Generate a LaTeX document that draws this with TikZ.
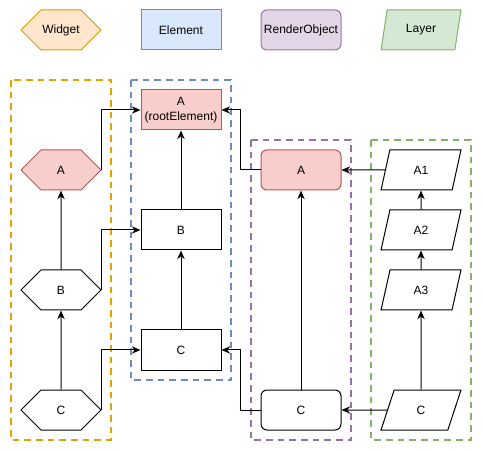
\documentclass[tikz,border=0pt]{standalone}
\usepackage{fontspec}
\setmainfont{Liberation Sans}
\usetikzlibrary{shapes.geometric,shapes.symbols,arrows.meta}

\definecolor{widgetfill}{HTML}{FFE6CC}
\definecolor{widgetline}{HTML}{D79B00}
\definecolor{widgetgroup}{HTML}{E0A300}
\definecolor{elementfill}{HTML}{DAE8FC}
\definecolor{elementline}{HTML}{6C8EBF}
\definecolor{renderfill}{HTML}{E1D5E7}
\definecolor{renderline}{HTML}{9673A6}
\definecolor{layerfill}{HTML}{D5E8D4}
\definecolor{layerline}{HTML}{82B366}
\definecolor{rootfill}{HTML}{F8CECC}
\definecolor{rootline}{HTML}{B85450}

\tikzset{
  base/.style={draw, line width=0.75pt, minimum width=60pt, minimum height=30pt,
    inner sep=0pt, align=center, font=\fontsize{9}{11.25}\selectfont},
  widget/.style={base, shape=signal, signal to=west and east, signal pointer angle=90},
  element/.style={base, rectangle},
  renderobj/.style={base, rectangle, rounded corners=4.5pt},
  layer/.style={base, trapezium, trapezium left angle=75.96,
    trapezium right angle=104.04, trapezium stretches=true},
  root/.style={fill=rootfill, draw=rootline},
  group/.style={line width=1.5pt, dash pattern=on 5pt off 3.75pt},
  link/.style={line width=0.75pt, -{Stealth[length=6.5pt,width=5.5pt]}}
}

\begin{document}
\begin{tikzpicture}[x=0.75pt,y=-0.75pt]
\useasboundingbox (0,0) rectangle (482,452);

% legend
\node[widget, fill=widgetfill, draw=widgetline] (legWidget) at (61,30) {Widget};
\node[element, fill=elementfill, draw=elementline] (legElement) at (181,30) {Element};
\node[renderobj, fill=renderfill, draw=renderline] (legRender) at (301,30) {RenderObject};
\node[layer, fill=layerfill, draw=layerline] (legLayer) at (421,30) {Layer};

% groups
\draw[group, widgetgroup] (11,80) rectangle (111,440);
\draw[group, elementline] (131,80) rectangle (231,380);
\draw[group, renderline] (251,140) rectangle (351,440);
\draw[group, layerline] (371,140) rectangle (471,440);

% widgets
\node[widget, root] (widgetA) at (61,170) {A};
\node[widget] (widgetB) at (61,290) {B};
\node[widget] (widgetC) at (61,410) {C};

% elements
\node[element, root] (elementA) at (181,110) {A\\(rootElement)};
\node[element] (elementB) at (181,230) {B};
\node[element] (elementC) at (181,350) {C};

% render objects
\node[renderobj, root] (renderA) at (301,170) {A};
\node[renderobj] (renderC) at (301,410) {C};

% layers
\node[layer] (layerA1) at (421,170) {A1};
\node[layer] (layerA2) at (421,230) {A2};
\node[layer] (layerA3) at (421,290) {A3};
\node[layer] (layerC) at (421,410) {C};

% parents
\draw[link] (widgetC) -- (widgetB);
\draw[link] (widgetB) -- (widgetA);
\draw[link] (elementC) -- (elementB);
\draw[link] (elementB) -- (elementA);
\draw[link] (renderC) -- (renderA);
\draw[link] (layerC) -- (layerA3);
\draw[link] (layerA3) -- (layerA2);
\draw[link] (layerA2) -- (layerA1);

% links across trees
\draw[link] (widgetA.east) |- (elementA);
\draw[link] (widgetB.east) |- (elementB);
\draw[link] (widgetC.east) |- (elementC);
\draw[link] (renderA.west) -- ++(-20,0) |- (elementA);
\draw[link] (renderC.west) -- ++(-20,0) |- (elementC);
\draw[link] (layerA1) -- (renderA);
\draw[link] (layerC) -- (renderC);
\end{tikzpicture}
\end{document}
